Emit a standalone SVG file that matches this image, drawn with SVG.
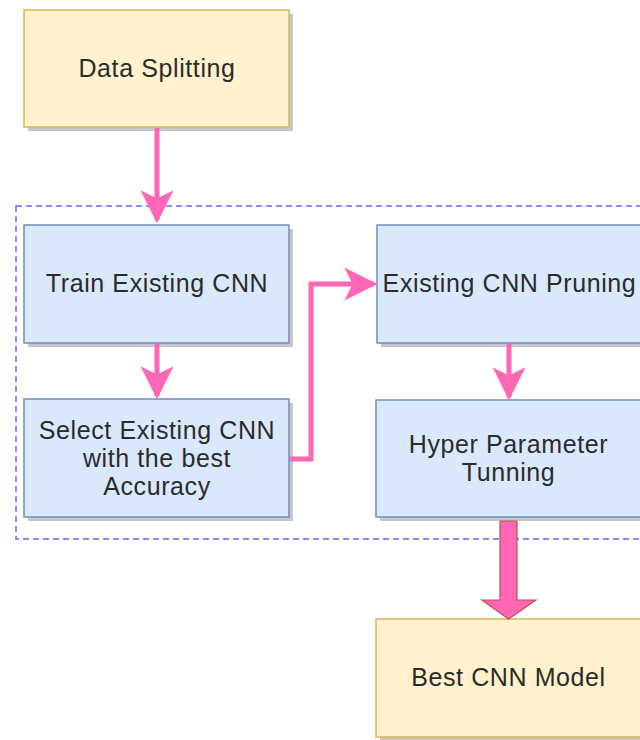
<svg xmlns="http://www.w3.org/2000/svg" width="640" height="740" viewBox="0 0 640 740">
  <style>
    .yellow { fill: #fff2cc; stroke: #d6b656; stroke-width: 1.5; }
    .blue { fill: #dae8fc; stroke: #6c8ebf; stroke-width: 1.5; }
    .shadow { fill: #000; opacity: 0.22; }
    .label { font-family: "Liberation Sans", Arial, sans-serif; font-size: 25px; letter-spacing: 0.6px; fill: #2b2b2b; text-anchor: middle; dominant-baseline: central; }
    .edge { fill: none; stroke: #ff66b3; stroke-width: 5; }
    .group { fill: none; stroke: #6666ff; stroke-width: 1.5; stroke-dasharray: 6 4; }
  </style>
  <defs>
    <marker id="head" viewBox="0 0 10 10" refX="9" refY="5" markerWidth="6.6" markerHeight="6.6" markerUnits="strokeWidth" orient="auto">
      <path d="M0,0 L10,5 L0,10 L2.5,5 Z" fill="#ff66b3"/>
    </marker>
  </defs>

  <rect width="640" height="740" fill="#fff"/>

  <!-- dashed grouping frame -->
  <rect class="group" x="16" y="206" width="640" height="333"/>

  <g id="data-splitting">
    <rect class="shadow" x="28" y="14" width="265" height="117"/>
    <rect class="yellow" x="24" y="10" width="265" height="117"/>
    <text class="label" x="157" y="68">Data Splitting</text>
  </g>

  <g id="train-cnn">
    <rect class="shadow" x="28" y="229" width="265" height="118"/>
    <rect class="blue" x="24" y="225" width="265" height="118"/>
    <text class="label" x="157" y="283">Train Existing CNN</text>
  </g>

  <g id="select-cnn">
    <rect class="shadow" x="28" y="403" width="265" height="118"/>
    <rect class="blue" x="24" y="399" width="265" height="118"/>
    <text class="label" x="157" y="430">Select Existing CNN</text>
    <text class="label" x="157" y="458">with the best</text>
    <text class="label" x="157" y="486">Accuracy</text>
  </g>

  <g id="cnn-pruning">
    <rect class="shadow" x="381" y="229" width="265" height="118"/>
    <rect class="blue" x="377" y="225" width="265" height="118"/>
    <text class="label" x="509.5" y="283">Existing CNN Pruning</text>
  </g>

  <g id="hyper-tuning">
    <rect class="shadow" x="380" y="404" width="265" height="117"/>
    <rect class="blue" x="376" y="400" width="265" height="117"/>
    <text class="label" x="508.5" y="444">Hyper Parameter</text>
    <text class="label" x="508.5" y="472">Tunning</text>
  </g>

  <g id="best-model">
    <rect class="shadow" x="380" y="623" width="265" height="118"/>
    <rect class="yellow" x="376" y="619" width="265" height="118"/>
    <text class="label" x="508.5" y="677">Best CNN Model</text>
  </g>

  <g id="connectors">
    <path class="edge" d="M157,128 V220" marker-end="url(#head)"/>
    <path class="edge" d="M157,344 V396" marker-end="url(#head)"/>
    <path class="edge" d="M290,459 H311 V284 H374" marker-end="url(#head)"/>
    <path class="edge" d="M509,344 V397" marker-end="url(#head)"/>
    <!-- wide block arrow into the final model -->
    <path d="M500,521 H517 V600 H536 L508.5,619 L482,600 H500 Z" fill="#ff66b3" stroke="#b85450" stroke-width="1.2" stroke-linejoin="miter"/>
  </g>
</svg>
